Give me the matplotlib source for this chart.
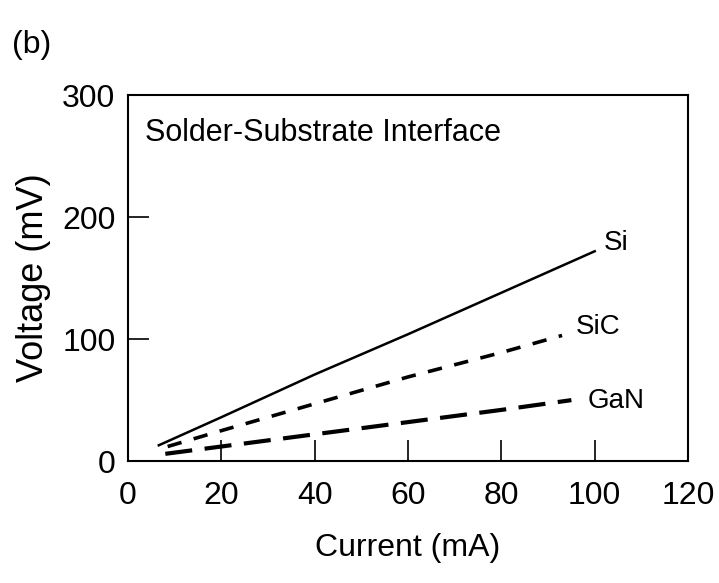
import matplotlib
matplotlib.use("Agg")
import matplotlib.pyplot as plt

# values
si_x = [6.6, 20, 40, 60, 80, 100]
si_y = [13, 36, 71, 104, 138, 172]
sic_x = [8.5, 20, 40, 60, 80, 93]
sic_y = [12, 25, 47, 69, 89, 103]
gan_x = [8, 20, 40, 60, 80, 95]
gan_y = [6, 12, 22, 32, 42, 50]

series = [
    ("Si", si_x, si_y, (102, 179)),
    ("SiC", sic_x, sic_y, (96, 110)),
    ("GaN", gan_x, gan_y, (98.5, 49)),
]
styles = {
    "Si": dict(linestyle="-", linewidth=1.8),
    "SiC": dict(linestyle=(0, (4, 3.5)), linewidth=2.6),
    "GaN": dict(linestyle=(0, (6.5, 3)), linewidth=3.0),
}

plt.rcParams["font.family"] = ["Liberation Sans", "DejaVu Sans"]

fig = plt.figure(figsize=(7.19, 5.83), dpi=100)
ax = fig.add_axes([0.178, 0.209, 0.779, 0.628])

for name, x, y, (tx, ty) in series:
    ax.plot(x, y, color="black", **styles[name])
    ax.text(tx, ty, name, fontsize=20, ha="left", va="center")

ax.set_xlim(0, 120)
ax.set_ylim(0, 300)
ax.set_xticks([0, 20, 40, 60, 80, 100, 120])
ax.set_yticks([0, 100, 200, 300])
ax.tick_params(direction="in", length=15, width=1.2, labelsize=23,
               top=False, right=False)
ax.tick_params(axis="x", pad=14)
ax.tick_params(axis="y", pad=9)
for s in ax.spines.values():
    s.set_linewidth(1.5)

ax.set_xlabel("Current (mA)", fontsize=23, labelpad=16)
ax.set_ylabel("Voltage (mV)", fontsize=26, labelpad=8)
ax.text(0.03, 0.895, "Solder-Substrate Interface", transform=ax.transAxes,
        fontsize=22, ha="left", va="center")
fig.text(0.016, 0.922, "(b)", fontsize=23, ha="left", va="center")

fig.savefig("out.png", dpi=100)
